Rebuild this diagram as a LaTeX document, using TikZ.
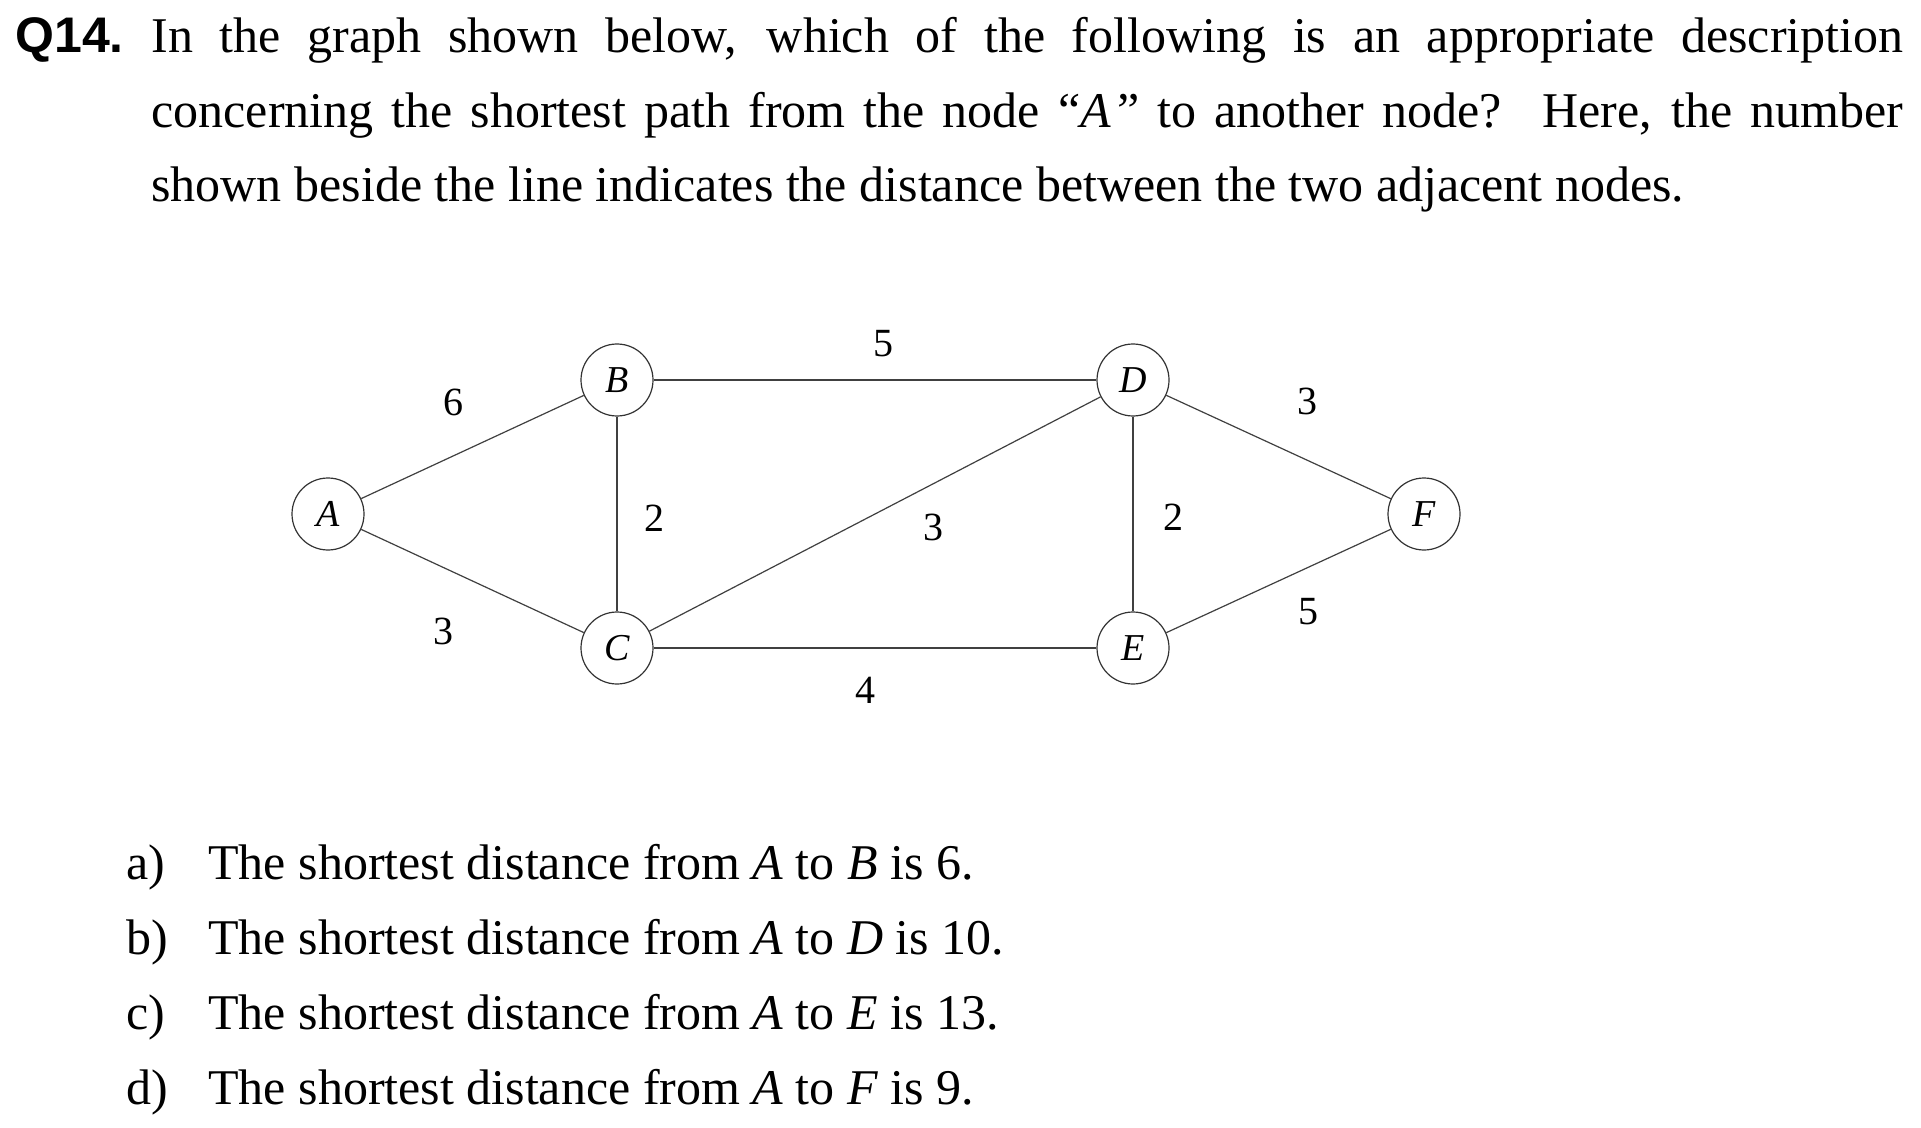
\documentclass[tikz,border=0pt]{standalone}
\usepackage{fontspec}
\setmainfont{Liberation Serif}
\newfontfamily\qfont{Liberation Sans}
\begin{document}
\begin{tikzpicture}[x=0.5pt,y=-0.5pt]
\tikzset{
 vtx/.style={circle, draw=black!80, line width=0.6pt, minimum size=36pt, inner sep=0pt, font=\fontsize{19}{19}\selectfont\itshape},
 edge/.style={draw=black!75, line width=0.6pt},
 wt/.style={inner sep=0pt, font=\fontsize{20}{20}\selectfont},
 txt/.style={inner sep=0pt, anchor=base west, font=\fontsize{25}{30}\selectfont},
}
\useasboundingbox[fill=white] (0,0) rectangle (1921,1128);
% question
\node[txt] (q) at (15,53) {\qfont\bfseries Q14.};
\node[txt] (l1) at (151,53) {\hbox to 876pt{In the graph shown below, which of the following is an appropriate description}};
\node[txt] (l2) at (151,128) {\hbox to 876pt{concerning the shortest path from the node ``\textit{A}\kern0.12em'' to another node?\hspace{0.15em} Here, the number}};
\node[txt] (l3) at (151,202) {shown beside the line indicates the distance between the two adjacent nodes.};
% graph
\node[vtx] (A) at (328,514) {A};
\node[vtx] (B) at (617,380) {B};
\node[vtx] (C) at (617,648) {C};
\node[vtx] (D) at (1133,380) {D};
\node[vtx] (E) at (1133,648) {E};
\node[vtx] (F) at (1424,514) {F};
\draw[edge] (A) -- (B);
\draw[edge] (A) -- (C);
\draw[edge] (B) -- (C);
\draw[edge] (B) -- (D);
\draw[edge] (C) -- (D);
\draw[edge] (C) -- (E);
\draw[edge] (D) -- (E);
\draw[edge] (D) -- (F);
\draw[edge] (E) -- (F);
\node[wt] (wAB) at (453,402) {6};
\node[wt] (wAC) at (443,631) {3};
\node[wt] (wBC) at (654,518) {2};
\node[wt] (wBD) at (883,344) {5};
\node[wt] (wCD) at (933,527) {3};
\node[wt] (wCE) at (865,690) {4};
\node[wt] (wDE) at (1173,517) {2};
\node[wt] (wDF) at (1307,401) {3};
\node[wt] (wEF) at (1308,612) {5};
% options
\node[txt] (oa) at (126,879) {a)};
\node[txt] (ta) at (208,879) {The shortest distance from \textit{A} to \textit{B} is 6.};
\node[txt] (ob) at (126,954) {b)};
\node[txt] (tb) at (208,954) {The shortest distance from \textit{A} to \textit{D} is 10.};
\node[txt] (oc) at (126,1029) {c)};
\node[txt] (tc) at (208,1029) {The shortest distance from \textit{A} to \textit{E} is 13.};
\node[txt] (od) at (126,1104) {d)};
\node[txt] (td) at (208,1104) {The shortest distance from \textit{A} to \textit{F} is 9.};
\end{tikzpicture}
\end{document}
